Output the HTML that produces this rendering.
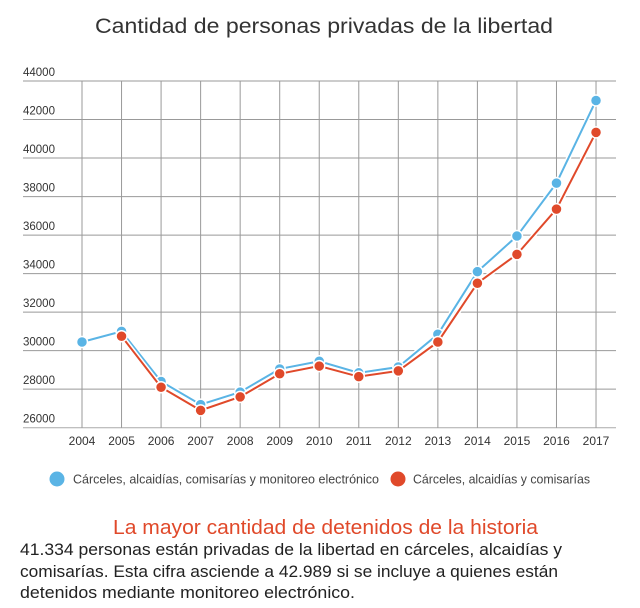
<!DOCTYPE html>
<html><head><meta charset="utf-8"><style>
body{margin:0;background:#fff;}
svg{display:block;font-family:"Liberation Sans",sans-serif;}
</style></head><body>
<svg id="c" width="640" height="608">
<text x="324" y="33" text-anchor="middle" font-size="21" fill="#333" textLength="458" lengthAdjust="spacingAndGlyphs">Cantidad de personas privadas de la libertad</text>
<g id="grid"></g>
<g id="series"></g>
<g>
<g><circle cx="57" cy="479" r="7.5" fill="#5ab4e5"/><text x="73" y="483.5" font-size="12.5" fill="#444" textLength="306" lengthAdjust="spacingAndGlyphs">Cárceles, alcaidías, comisarías y monitoreo electrónico</text></g>
<g><circle cx="398" cy="479" r="7.5" fill="#e0492a"/><text x="413" y="483.5" font-size="12.5" fill="#444" textLength="177" lengthAdjust="spacingAndGlyphs">Cárceles, alcaidías y comisarías</text></g>
</g>
<text x="113" y="534" font-size="20" fill="#e0492a" textLength="425" lengthAdjust="spacingAndGlyphs">La mayor cantidad de detenidos de la historia</text>
<g font-size="17" fill="#222">
<text x="20" y="555" textLength="542" lengthAdjust="spacingAndGlyphs">41.334 personas están privadas de la libertad en cárceles, alcaidías y</text>
<text x="20" y="577" textLength="538" lengthAdjust="spacingAndGlyphs">comisarías. Esta cifra asciende a 42.989 si se incluye a quienes están</text>
<text x="20" y="598" textLength="335" lengthAdjust="spacingAndGlyphs">detenidos mediante monitoreo electrónico.</text>
</g>
</svg>
<script>
const years=[2004,2005,2006,2007,2008,2009,2010,2011,2012,2013,2014,2015,2016,2017];
const blueValues=[30450,31000,28400,27200,27850,29050,29450,28850,29150,30850,34100,35950,38700,42989];
const redValues=[null,30750,28100,26900,27600,28800,29200,28650,28950,30450,33500,35000,37350,41334];
const yTicks=[26000,28000,30000,32000,34000,36000,38000,40000,42000,44000];
const NS="http://www.w3.org/2000/svg";
function x(i){return 82+i*39.54;}
function y(v){return 427.7-(v-26000)*(346.7/18000);}
function mk(t,a,p){const e=document.createElementNS(NS,t);for(const k in a)e.setAttribute(k,a[k]);p.appendChild(e);return e;}
const g=document.getElementById('grid');
yTicks.forEach(v=>{
 const l=mk('line',{x1:23,x2:616,y1:y(v),y2:y(v),stroke:v===26000?'#aaa':'#999','stroke-width':1},g);
 
 
 const t=mk('text',{x:23,y:y(v)-5,'font-size':11.5,fill:'#333'},g);t.textContent=v;
 
 
});
years.forEach((yr,i)=>{
 const l=mk('line',{x1:x(i),x2:x(i),y1:y(44000),y2:y(26000),stroke:'#999','stroke-width':1},g);
 
 
 const t=mk('text',{x:x(i),y:445,'font-size':12,fill:'#333','text-anchor':'middle'},g);t.textContent=yr;
 
 
});
const s=document.getElementById('series');
function draw(vals,col,name){
 const pts=vals.map((v,i)=>v==null?null:[x(i),y(v)]).filter(p=>p);
 const pl=mk('polyline',{points:pts.map(p=>p.join(',')).join(' '),fill:'none',stroke:'#fff','stroke-width':5},s);
 
 
 const ln=mk('polyline',{points:pts.map(p=>p.join(',')).join(' '),fill:'none',stroke:col,'stroke-width':2},s);
 
 
 pts.forEach(p=>{const c=mk('circle',{cx:p[0],cy:p[1],r:5.5,fill:col,stroke:'#fff','stroke-width':1.5},s);
 
 });
}
draw(blueValues,'#5ab4e5','blue-series');
draw(redValues,'#e0492a','red-series');
</script>
</body></html>
